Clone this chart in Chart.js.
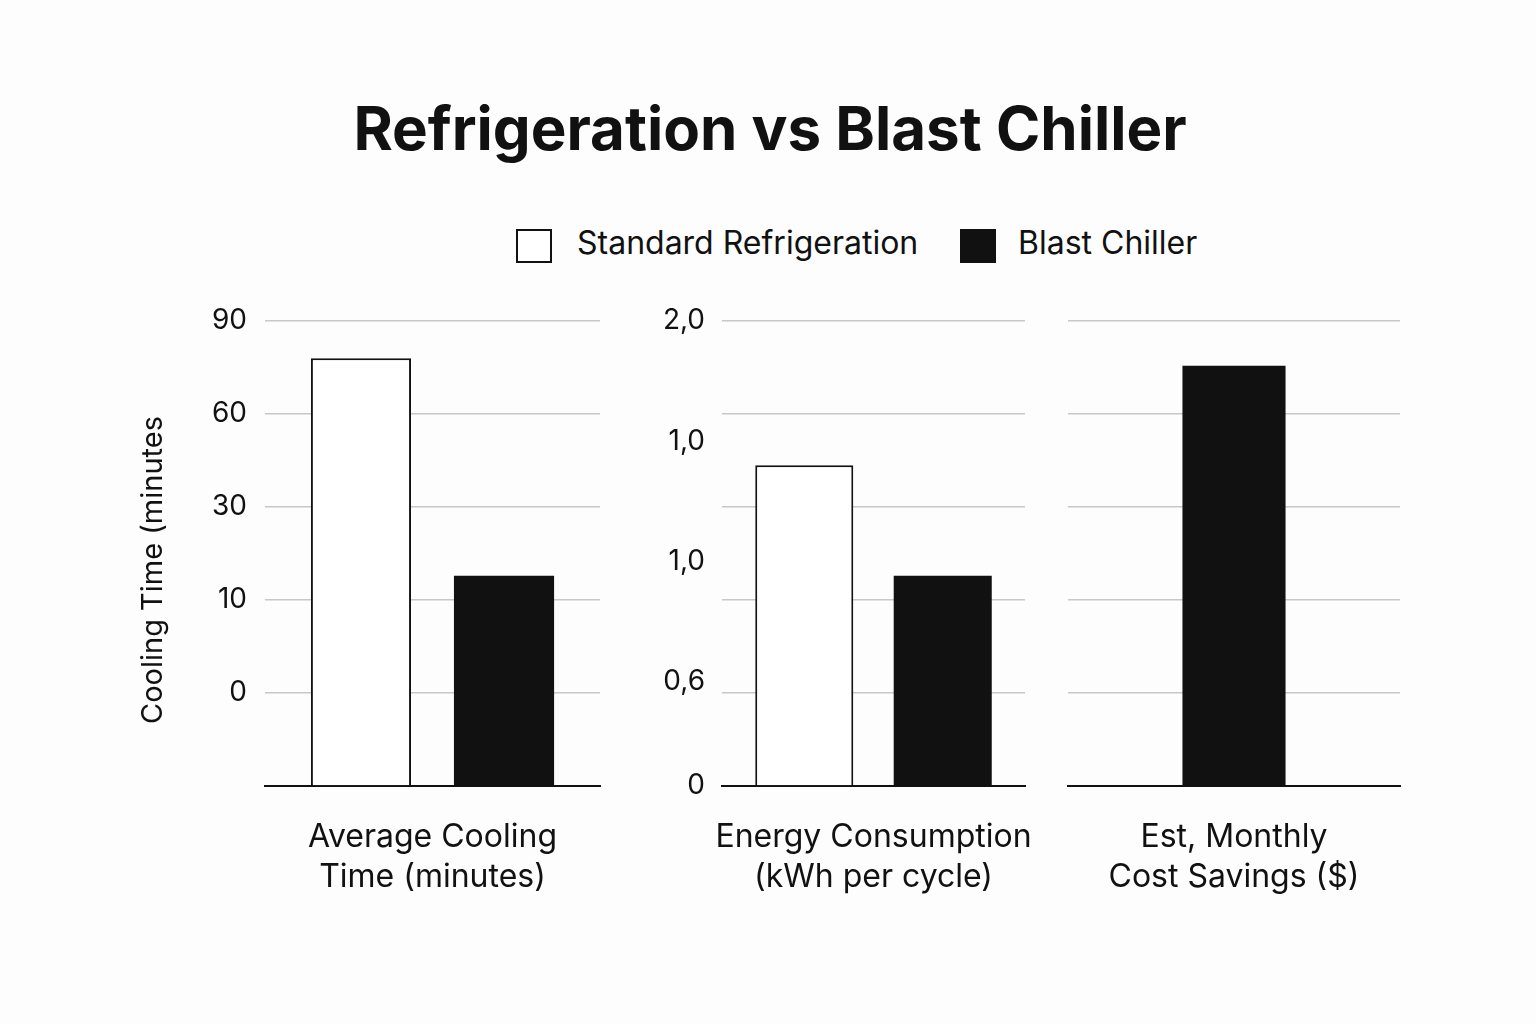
<!DOCTYPE html>
<html lang="en">
<head>
<meta charset="UTF-8">
<title>Refrigeration vs Blast Chiller</title>
<script src="https://cdn.jsdelivr.net/npm/chart.js@4.4.1/dist/chart.umd.min.js"></script>
<style>
  body { margin: 0; width: 1536px; height: 1024px; background: #fdfdfd; color: #111;
         font-family: Inter, "Noto Sans", sans-serif; position: relative; overflow: hidden; }
  h1 { position: absolute; left: 0; width: 1540px; top: 98px; margin: 0; text-align: center;
       font-size: 60px; line-height: 60px; font-weight: 700; }
  .box { position: absolute; top: 229px; width: 36px; height: 34px; box-sizing: border-box; border: 2px solid #111; }
  .lbl { position: absolute; top: 225px; font-size: 32px; line-height: 36px; white-space: nowrap; }
  .panel { position: absolute; top: 290px; }
</style>
</head>
<body>
  <h1>Refrigeration vs Blast Chiller</h1>

  <div class="box" style="left:516px; background:#fff"></div>
  <div class="lbl" style="left:577px">Standard Refrigeration</div>
  <div class="box" style="left:960px; background:#111"></div>
  <div class="lbl" style="left:1018px">Blast Chiller</div>

  <canvas id="p1" class="panel" style="left:130px" width="480" height="640"></canvas>
  <canvas id="p2" class="panel" style="left:640px" width="400" height="640"></canvas>
  <canvas id="p3" class="panel" style="left:1050px" width="370" height="640"></canvas>

<script>
  // categorias de las tres graficas
  const categories = [
    ['Average Cooling', 'Time (minutes)'],
    ['Energy Consumption', '(kWh per cycle)'],
    ['Est, Monthly', 'Cost Savings ($)']
  ];
  // alturas, en lineas de rejilla (0 = base, 5 = linea superior)
  const standardValues = [4.6, 3.45, null];
  const blastValues = [2.26, 2.26, 4.52];

  // etiquetas del eje y, una por linea de rejilla desde abajo
  const coolingTicks = ['', '0', '10', '30', '60', '90'];
  // la segunda grafica tiene etiquetas fuera de la rejilla
  const energyTicks = ['0', '0,6', '1,0', '1,0', '2,0'];
  const energyTickPos = [0, 1.12, 2.41, 3.7, 5];

  const FONT = 'Inter, "Noto Sans", sans-serif';
  const INK = '#111';
  const GRID = '#c8c8c8';

  // sin relleno automatico: el area de dibujo queda donde la pongo
  function noPad(s) {
    s.paddingLeft = 0; s.paddingRight = 0; s.paddingTop = 0; s.paddingBottom = 0;
  }

  function xScale() {
    return {
      grid: { display: false },
      border: { display: true, color: INK, width: 2 },
      ticks: { color: INK, padding: 23, font: { family: FONT, size: 32, lineHeight: 40 / 32 } },
      afterFit: s => { s.height = 144; noPad(s); }
    };
  }

  function gridScale(width, showLabels, labels) {
    return {
      min: 0, max: 5,
      grid: { color: c => c.tick.value === 0 ? 'rgba(0,0,0,0)' : GRID, lineWidth: 1.5, drawTicks: false },
      border: { display: false },
      ticks: {
        display: showLabels, stepSize: 1, padding: 18, color: INK,
        font: { family: FONT, size: 28 },
        callback: v => labels ? labels[v] : ''
      },
      afterFit: s => { s.width = width; noPad(s); }
    };
  }

  function datasets(i, catPct, barPct) {
    return [
      { label: 'Standard Refrigeration', data: [standardValues[i]], backgroundColor: '#fff',
        borderColor: INK, borderWidth: 2, borderSkipped: 'bottom',
        categoryPercentage: catPct, barPercentage: barPct },
      { label: 'Blast Chiller', data: [blastValues[i]], backgroundColor: INK,
        borderWidth: 0, categoryPercentage: catPct, barPercentage: barPct }
    ];
  }

  // titulo del eje y de la primera grafica, algo por debajo del centro como en el original
  const yTitle = {
    id: 'yTitle',
    afterDraw(chart) {
      const ctx = chart.ctx;
      ctx.save();
      ctx.translate(23, 280);
      ctx.rotate(-Math.PI / 2);
      ctx.font = '29px ' + FONT;
      ctx.fillStyle = INK;
      ctx.textAlign = 'center';
      ctx.textBaseline = 'middle';
      ctx.fillText('Cooling Time (minutes', 0, 0);
      ctx.restore();
    }
  };

  const common = {
    responsive: false,
    animation: false,
    plugins: { legend: { display: false }, tooltip: { enabled: false } }
  };

  // grafica 1: tiempo de enfriamiento
  new Chart(document.getElementById('p1'), {
    type: 'bar',
    data: { labels: [categories[0]], datasets: datasets(0, 0.854, 0.70) },
    options: { ...common, layout: { padding: { top: 31, right: 10 } },
               scales: { x: xScale(), y: gridScale(135, true, coolingTicks) } },
    plugins: [yTitle]
  });

  // grafica 2: energia, con un eje extra solo para las etiquetas
  const yl = {
    position: 'left', min: 0, max: 5,
    grid: { display: false }, border: { display: false },
    afterBuildTicks: s => { s.ticks = energyTickPos.map(v => ({ value: v })); },
    ticks: { padding: 9, color: INK, font: { family: FONT, size: 28 },
             callback: (v, i) => energyTicks[i] },
    afterFit: s => { s.width = 82; noPad(s); }
  };
  new Chart(document.getElementById('p2'), {
    type: 'bar',
    data: { labels: [categories[1]], datasets: datasets(1, 0.914, 0.708) },
    options: { ...common, layout: { padding: { top: 31, right: 15 } },
               scales: { x: xScale(), y: gridScale(0, false, null), yl: yl } }
  });

  // grafica 3: ahorro mensual
  new Chart(document.getElementById('p3'), {
    type: 'bar',
    data: { labels: [categories[2]], datasets: datasets(2, 0.9, 0.345) },
    options: { ...common, skipNull: true, layout: { padding: { top: 31, right: 20 } },
               scales: { x: xScale(), y: gridScale(18, false, null) } }
  });
</script>
</body>
</html>
